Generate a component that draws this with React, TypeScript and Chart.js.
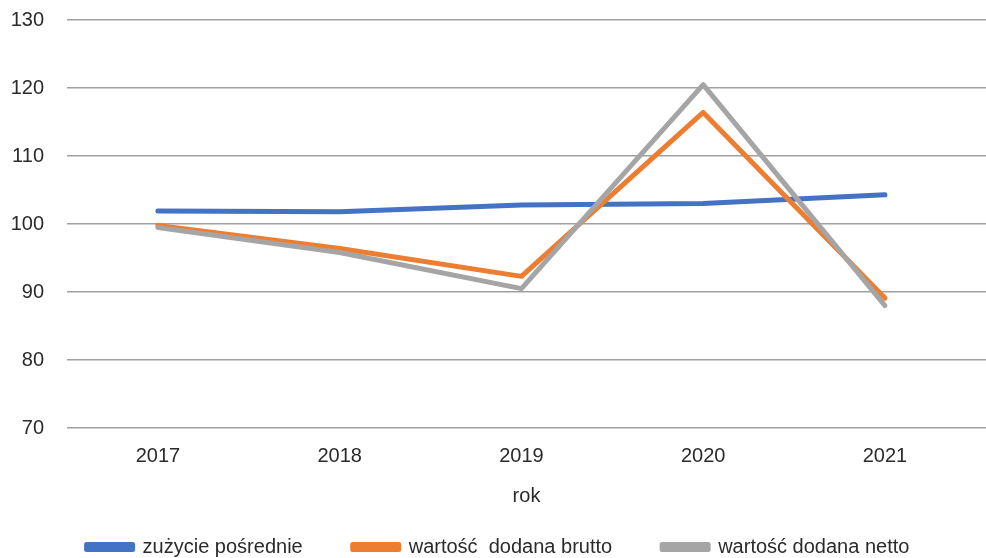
import React, { useEffect, useRef } from "react";
import { Chart, registerables } from "chart.js";

Chart.register(...registerables);

const years = [2017, 2018, 2019, 2020, 2021];
const zuzycie = [101.9, 101.8, 102.8, 103.0, 104.3];
const brutto = [99.8, 96.4, 92.3, 116.4, 89.1];
const netto = [99.5, 95.8, 90.5, 120.5, 88.0];
const yTicks = [70, 80, 90, 100, 110, 120, 130];

const FONT = "'Liberation Sans', Arial, sans-serif";
const TEXT = "#2b2b2b";

export default function App() {
  const ref = useRef<HTMLCanvasElement | null>(null);
  useEffect(() => {
    document.body.style.margin = "0";
    const ctx = ref.current!;
    const mk = (arr: number[]) => years.map((x, i) => ({ x, y: arr[i] }));
    const chart = new Chart(ctx, {
      type: "line",
      data: {
        datasets: [
          { label: "zużycie pośrednie", data: mk(zuzycie), borderColor: "#4472C4", backgroundColor: "#4472C4", borderWidth: 5, pointRadius: 0, order: 3, borderCapStyle: "round", borderJoinStyle: "round" },
          { label: "wartość  dodana brutto", data: mk(brutto), borderColor: "#ED7D31", backgroundColor: "#ED7D31", borderWidth: 5, pointRadius: 0, order: 2, borderCapStyle: "round", borderJoinStyle: "round" },
          { label: "wartość dodana netto", data: mk(netto), borderColor: "#A5A5A5", backgroundColor: "#A5A5A5", borderWidth: 5, pointRadius: 0, order: 1, borderCapStyle: "round", borderJoinStyle: "round" },
        ],
      },
      options: {
        animation: false,
        responsive: false,
        maintainAspectRatio: false,
        layout: { padding: { left: 10, right: 0, top: 20, bottom: -9 } },
        plugins: {
          tooltip: { enabled: false },
          legend: {
            position: "bottom",
            labels: {
              font: { family: FONT, size: 20 },
              color: TEXT,
              boxWidth: 46,
              boxHeight: 5,
              padding: 50,
              sort: (a: any, b: any) => a.datasetIndex - b.datasetIndex,
            },
          },
        },
        scales: {
          x: {
            type: "linear",
            min: 2016.5,
            max: 2021.556,
            afterBuildTicks: (s: any) => { s.ticks = years.map((v) => ({ value: v })); },
            afterFit: (s: any) => { s.paddingLeft = 0; s.paddingRight = 0; },
            ticks: {
              font: { family: FONT, size: 20 },
              color: TEXT,
              padding: 16,
              callback: (v: any) => String(v),
            },
            grid: { display: false, drawTicks: false },
            border: { display: false },
            title: { display: true, text: "rok", font: { family: FONT, size: 20 }, color: TEXT, padding: { top: 0, bottom: -21 } },
          },
          y: {
            min: 70,
            max: 130,
            afterBuildTicks: (s: any) => { s.ticks = yTicks.map((v) => ({ value: v })); },
            afterFit: (s: any) => { s.width = 57; s.paddingTop = 0; s.paddingBottom = 0; },
            ticks: {
              font: { family: FONT, size: 20 },
              color: TEXT,
              padding: 23,
            },
            grid: { color: "#A0A0A0", lineWidth: 1.5, drawTicks: false },
            border: { display: false },
          },
        },
      },
    });
    return () => chart.destroy();
  }, []);
  return (
    <div style={{ position: "absolute", left: 0, top: 0, width: 986, height: 558 }}>
      <canvas ref={ref} width={986} height={558} style={{ width: 986, height: 558 }} />
    </div>
  );
}
